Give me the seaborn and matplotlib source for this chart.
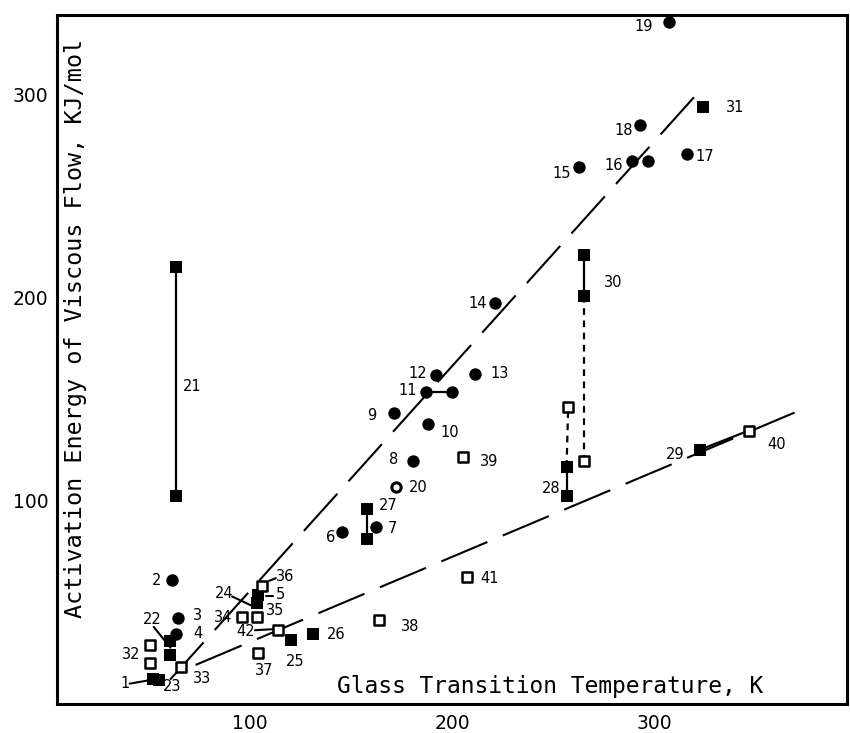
import numpy as np
import pandas as pd
import matplotlib.pyplot as plt
import seaborn as sns
from matplotlib.transforms import ScaledTranslation

sns.set_style("white")
plt.rcParams['font.family'] = ['DejaVu Sans']
plt.rcParams['text.color'] = 'black'

# filled circles
fc_x = [56.7, 59.8, 59.1, 141.3, 157.9, 176.1, 166.7, 183.5, 182.7, 195.4, 187.7, 206.7,
        216.6, 258.3, 284.5, 292.7, 311.8, 288.6, 303.0]
fc_y = [61.0, 42.2, 34.3, 84.4, 87.2, 119.7, 143.2, 137.8, 153.4, 153.4, 162.0, 162.4,
        197.2, 264.2, 267.0, 267.0, 270.8, 284.7, 335.6]

# open circle (20)
oc_x = [167.8]
oc_y = [106.6]

# filled squares
fs_x = [47.5, 50.5, 56.0, 56.0, 99.4, 99.2, 115.7, 126.5, 153.3, 153.3, 252.2, 252.2,
        318.0, 260.8, 260.8, 319.7, 59.0, 59.0]
fs_y = [12.2, 12.0, 31.0, 24.0, 53.5, 49.5, 31.4, 34.3, 95.9, 81.1, 102.5, 116.7,
        125.0, 220.7, 200.5, 293.7, 102.5, 214.9]

# open squares
os_x = [46.2, 46.2, 61.5, 91.4, 98.8, 101.3, 99.5, 159.6, 200.9, 342.3, 202.7, 109.6, 253.0, 260.8]
os_y = [29.0, 20.0, 18.4, 43.0, 42.9, 58.1, 25.3, 41.4, 121.3, 134.5, 62.6, 36.6, 146.0, 119.7]

# fitted lines
upper_fit_x = [56.0, 318.4]
upper_fit_y = [12.0, 302.0]
lower_fit_x = [68.6, 372.0]
lower_fit_y = [19.2, 146.3]

# solid tie lines between pairs
tie_x = [[59.0, 59.0], [182.7, 195.4], [153.3, 153.3], [252.2, 252.2], [260.8, 260.8], [318.0, 342.3]]
tie_y = [[102.5, 214.9], [153.4, 153.4], [95.9, 81.1], [102.5, 116.7], [220.7, 200.5], [125.0, 134.5]]

# dotted tie lines
dot_x = [[252.2, 253.0], [260.8, 260.8]]
dot_y = [[116.7, 146.0], [200.5, 119.7]]

# leader lines
lead_x = [[36.0, 47.0], [47.9, 56.2], [86.7, 97.5], [105.0, 108.3], [103.3, 107.0], [98.0, 107.0]]
lead_y = [[10.0, 11.9], [37.9, 27.7], [52.9, 47.8], [60.6, 61.9], [53.3, 53.3], [36.3, 36.8]]

# point numbers
num_text = ['1', '2', '3', '4', '5', '6', '7', '8', '9', '10', '11', '12', '13', '14', '15',
            '16', '17', '18', '19', '20', '21', '22', '23', '24', '25', '26', '27', '28',
            '29', '30', '31', '32', '33', '34', '35', '36', '37', '38', '39', '40', '41', '42']
num_x = [33.5, 49.5, 69.7, 69.7, 110.5, 135.6, 166.2, 166.7, 155.9, 194.3, 173.6, 178.6, 219.1,
         208.3, 249.7, 275.3, 320.5, 280.3, 290.6, 178.9, 66.9, 47.1, 57.0, 82.6, 117.9, 138.4,
         164.0, 244.8, 306.0, 275.3, 335.7, 36.8, 71.9, 82.3, 107.9, 112.9, 102.8, 175.0, 214.1,
         356.4, 214.2, 93.4]
num_y = [10.0, 60.6, 43.3, 34.8, 53.8, 81.9, 86.4, 120.5, 141.9, 133.6, 154.2, 162.7, 162.7,
         196.9, 261.2, 265.0, 269.5, 282.3, 333.2, 106.3, 156.2, 41.7, 8.4, 54.3, 20.7, 34.0,
         97.5, 105.8, 123.0, 207.5, 293.7, 24.5, 12.5, 42.5, 46.0, 62.6, 16.3, 37.9, 119.2,
         127.9, 61.6, 35.5]

fig, ax = plt.subplots(figsize=(8.5, 7.33), dpi=100)
fig.subplots_adjust(left=0.067, right=0.9965, bottom=0.0396, top=0.9795)

# fit lines, long dashes
for xs, ys in [(upper_fit_x, upper_fit_y), (lower_fit_x, lower_fit_y)]:
    ln, = ax.plot(xs, ys, color='black', lw=1.5, zorder=1)
    ln.set_dashes((24, 8))

for xs, ys in zip(tie_x, tie_y):
    ax.plot(xs, ys, color='black', lw=1.6, zorder=1)
for xs, ys in zip(dot_x, dot_y):
    ax.plot(xs, ys, color='black', lw=1.6, dashes=(3, 2.5), zorder=1)
for xs, ys in zip(lead_x, lead_y):
    ax.plot(xs, ys, color='black', lw=1.5, zorder=1)

sns.scatterplot(x=fc_x, y=fc_y, marker='o', s=80, color='black', edgecolor='black',
                linewidth=0, ax=ax, zorder=3)
sns.scatterplot(x=oc_x, y=oc_y, marker='o', s=45, color='white', edgecolor='black',
                linewidth=2.2, ax=ax, zorder=3)
sns.scatterplot(x=fs_x, y=fs_y, marker='s', s=85, color='black', edgecolor='black',
                linewidth=0, ax=ax, zorder=3)
sns.scatterplot(x=os_x, y=os_y, marker='s', s=60, color='white', edgecolor='black',
                linewidth=1.8, ax=ax, zorder=3)

for t, x, y in zip(num_text, num_x, num_y):
    ax.text(x, y, t, fontsize=10.5, color='black', ha='center', va='center', zorder=4)

ax.set_xlim(0, 391)
ax.set_ylim(0, 339)
ax.set_xticks([100, 200, 300])
ax.set_yticks([100, 200, 300])
ax.tick_params(direction='in', length=5, width=1.5, labelsize=13.5, colors='black')
ax.tick_params(axis='x', pad=7)
ax.tick_params(axis='y', pad=6)
for lab in ax.get_xticklabels():
    lab.set_transform(lab.get_transform() + ScaledTranslation(-0.09, 0, fig.dpi_scale_trans))
for sp in ax.spines.values():
    sp.set_color('black')
    sp.set_linewidth(2.2)
ax.set_xlabel('')
ax.set_ylabel('')

ax.text(0.624, 0.016, 'Glass Transition Temperature, K', transform=ax.transAxes,
        family='DejaVu Sans Mono', fontsize=16.5, color='black', ha='center', va='baseline')
ax.text(0.023, 0.545, 'Activation Energy of Viscous Flow, KJ/mol', transform=ax.transAxes,
        family='DejaVu Sans Mono', fontsize=16.8, color='black', ha='center', va='center',
        rotation=90)

fig.savefig('out.png', dpi=100)
